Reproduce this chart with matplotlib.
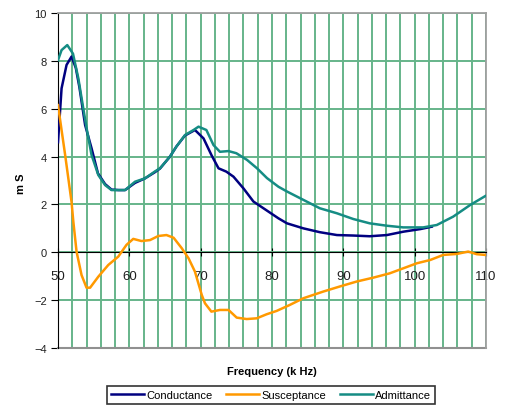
import matplotlib
matplotlib.use("Agg")
import matplotlib.pyplot as plt
from matplotlib.ticker import MultipleLocator

plt.rcParams['font.family'] = ['Liberation Sans', 'DejaVu Sans']

cond_f = [50, 50.5, 51.2, 51.9, 52.5, 53.0, 53.8, 54.7, 55.6, 56.6, 57.5, 58.5, 59.4, 60.8, 62.2,
          63.6, 64.3, 65.7, 66.6, 67.8, 69.2, 70.4, 71.5, 72.5, 73.6, 74.6, 76.0, 77.4, 78.8, 80.9,
          82.1, 84.4, 86.7, 89.1, 91.4, 93.7, 96.1, 98.4, 100.8, 102.4]
cond_v = [4.6, 6.85, 7.83, 8.18, 7.7, 6.9, 5.32, 4.35, 3.3, 2.85, 2.62, 2.6, 2.6, 2.9, 3.09,
          3.35, 3.5, 4.0, 4.42, 4.88, 5.11, 4.76, 4.07, 3.51, 3.37, 3.16, 2.67, 2.12, 1.84, 1.42,
          1.21, 1.0, 0.84, 0.72, 0.7, 0.67, 0.72, 0.86, 0.97, 1.07]

adm_f = [50, 50.5, 51.3, 52.1, 52.85, 53.55, 54.0, 54.7, 55.65, 56.6, 57.5, 59.4, 60.8, 62.2,
         63.6, 64.3, 65.7, 66.6, 67.8, 69.0, 69.7, 70.8, 71.8, 72.7, 73.9, 75.0, 76.5, 77.9,
         79.3, 80.9, 82.1, 84.4, 86.7, 89.1, 91.4, 93.7, 96.1, 98.4, 101.2, 103.1, 105.4,
         107.8, 109.9]
adm_v = [8.03, 8.45, 8.66, 8.3, 7.27, 6.0, 5.2, 4.07, 3.23, 2.81, 2.6, 2.6, 2.95, 3.09,
         3.38, 3.51, 4.0, 4.42, 4.9, 5.11, 5.25, 5.11, 4.48, 4.2, 4.23, 4.14, 3.86, 3.51,
         3.1, 2.74, 2.54, 2.19, 1.84, 1.63, 1.39, 1.21, 1.11, 1.04, 1.04, 1.14, 1.49,
         1.98, 2.35]

sus_f = [50, 51.0, 51.9, 52.15, 52.6, 53.3, 54.0, 54.5, 55.65, 57.05, 58.45, 59.6, 60.55,
         61.7, 62.9, 64.05, 65.2, 66.2, 67.35, 68.3, 69.2, 70.15, 70.6, 71.5, 72.7, 73.9,
         75.05, 76.45, 77.85, 79.25, 80.65, 82.5, 84.4, 87.2, 89.5, 91.9, 94.2, 96.5, 98.4,
         100.3, 102.2, 104.0, 105.9, 107.5, 108.7, 109.9]
sus_v = [6.15, 4.07, 2.1, 1.28, 0.03, -0.95, -1.48, -1.48, -1.02, -0.53, -0.18, 0.31, 0.56,
         0.47, 0.51, 0.68, 0.72, 0.61, 0.17, -0.25, -0.81, -1.78, -2.13, -2.48, -2.41, -2.41,
         -2.73, -2.79, -2.76, -2.59, -2.45, -2.2, -1.92, -1.64, -1.43, -1.22, -1.06, -0.88, -0.67,
         -0.46, -0.32, -0.11, -0.07, 0.03, -0.08, -0.11]

x_ticks = [50, 60, 70, 80, 90, 100, 110]
y_ticks = [-4, -2, 0, 2, 4, 6, 8, 10]

fig = plt.figure(figsize=(5.05, 4.10), dpi=100)
ax = fig.add_axes([58/505, 1-349/410, (486-58)/505, (349-14)/410])

grid_c = '#66b48a'
ax.set_xlim(50, 110)
ax.set_ylim(-4, 10)
ax.xaxis.set_major_locator(MultipleLocator(10))
ax.xaxis.set_minor_locator(MultipleLocator(2))
ax.set_yticks(y_ticks)
ax.grid(True, which='both', axis='x', color=grid_c, lw=1.4)
ax.grid(True, which='major', axis='y', color=grid_c, lw=1.4)
ax.set_axisbelow(True)

ax.plot(cond_f, cond_v, color='#000080', lw=1.8, label='Conductance', zorder=3)
ax.plot(sus_f, sus_v, color='#ff9900', lw=1.8, label='Susceptance', zorder=3)
ax.plot(adm_f, adm_v, color='#158c84', lw=1.8, label='Admittance', zorder=3)

ax.spines['bottom'].set_position(('data', 0))
ax.spines['bottom'].set_color('black')
ax.spines['bottom'].set_zorder(2.5)
ax.spines['left'].set_color('black')
ax.spines['top'].set_color('#a0a0a0')
ax.spines['right'].set_color('#a0a0a0')
ax.spines['top'].set_linewidth(1.3)
ax.spines['right'].set_linewidth(1.3)
ax.axhline(-4, color='#909090', lw=1.5, zorder=2.5, clip_on=False)

ax.set_xticks(x_ticks)
ax.set_xticklabels([str(t) for t in x_ticks])
ax.tick_params(axis='x', which='major', direction='inout', length=6, pad=10, labelsize=9.5, colors='black')
ax.tick_params(axis='x', which='minor', length=0)
ax.tick_params(axis='y', direction='out', length=5, pad=3, labelsize=8, colors='black')
for lab in ax.get_xticklabels():
    lab.set_color('#202020')
for lab in ax.get_yticklabels():
    lab.set_color('#202020')

fig.text(272/505, 1-372/410, 'Frequency (k Hz)', ha='center', va='center', fontsize=8, fontweight='bold')
fig.text(21/505, 1-184/410, 'm S', ha='center', va='center', rotation=90, fontsize=8, fontweight='bold')

leg = fig.legend(loc='center', bbox_to_anchor=(271/505, 1-396/410), ncol=3, fontsize=8,
                 frameon=True, fancybox=False, handlelength=3.0, handletextpad=0.2,
                 columnspacing=1.2, borderpad=0.35)
leg.get_frame().set_edgecolor('black')
leg.get_frame().set_linewidth(1.2)

fig.savefig('out.png', dpi=100)
